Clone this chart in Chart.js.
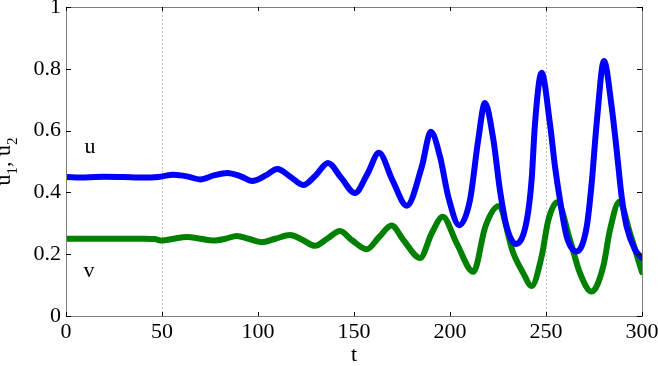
<!DOCTYPE html>
<html>
<head>
<meta charset="utf-8">
<script src="https://cdn.jsdelivr.net/npm/chart.js@4.4.1/dist/chart.umd.min.js"></script>
<style>
  html, body { margin: 0; padding: 0; background: #fff; overflow: hidden; }
  #wrap { width: 658px; height: 366px; }
</style>
</head>
<body>
<div id="wrap"><canvas id="chart" width="658" height="366"></canvas></div>
<script>
// values
const uTimes = [0, 10, 20, 30, 40, 48, 56, 63, 70, 77, 84, 91, 97, 104, 110, 117, 123.6, 130, 136.5, 143,
  150.5, 157, 163, 170, 177.5, 185.3, 190, 194.8, 199.1, 204.8, 210.4, 214.7, 218.2, 222.6, 226, 229.5,
  234.4, 240, 242.5, 244.3, 247.7, 252, 254.7, 257.3, 260.8, 266, 271.2, 273.8, 276.4, 280.2, 284.2,
  286.8, 289.4, 292, 296.4, 300];
const uValues = [0.450, 0.448, 0.451, 0.450, 0.448, 0.450, 0.457, 0.452, 0.442, 0.455, 0.463, 0.452, 0.437,
  0.455, 0.476, 0.450, 0.424, 0.455, 0.495, 0.450, 0.398, 0.460, 0.528, 0.440, 0.357, 0.483, 0.596, 0.516,
  0.386, 0.294, 0.375, 0.570, 0.689, 0.570, 0.408, 0.289, 0.233, 0.310, 0.440, 0.625, 0.787, 0.625, 0.483,
  0.375, 0.257, 0.209, 0.289, 0.430, 0.625, 0.825, 0.677, 0.537, 0.386, 0.289, 0.214, 0.188];

const vTimes = [0, 20, 40, 46, 50, 56, 63, 70, 76.6, 83, 89, 95, 102, 109, 116.7, 123, 129.7, 136, 142.7,
  149, 156.6, 163, 169.6, 175.7, 184.4, 190.5, 196.2, 203.5, 212.2, 218.4, 225.2, 233, 238.2, 242.5,
  247.7, 251.2, 255.9, 262.5, 267.7, 273.8, 279.8, 283.3, 288.2, 293.75, 300];
const vValues = [0.250, 0.250, 0.250, 0.249, 0.244, 0.250, 0.256, 0.250, 0.244, 0.250, 0.259, 0.250, 0.239,
  0.250, 0.262, 0.247, 0.227, 0.250, 0.275, 0.245, 0.216, 0.255, 0.293, 0.246, 0.188, 0.268, 0.321, 0.235,
  0.143, 0.289, 0.355, 0.203, 0.138, 0.097, 0.192, 0.310, 0.368, 0.246, 0.139, 0.079, 0.160, 0.278, 0.370,
  0.268, 0.142];

const xTicks = [0, 50, 100, 150, 200, 250, 300];
const yTicks = [0, 0.2, 0.4, 0.6, 0.8, 1];
const dottedAt = [50, 250];

// curve names written inside the plot, in data units
const labelText = ['u', 'v'];
const labelT = [12.5, 12];
const labelY = [0.527, 0.125];

const serif = 'Liberation Serif';

function toPoints(ts, vs) {
  return ts.map((t, i) => ({ x: t, y: vs[i] }));
}

const frameAndTicks = {
  id: 'frameAndTicks',
  afterDraw(chart) {
    const { ctx, chartArea: a, scales } = chart;
    ctx.save();
    ctx.strokeStyle = '#7f7f7f';
    ctx.lineWidth = 1;
    ctx.strokeRect(Math.round(a.left) + 0.5, Math.round(a.top) + 0.5,
      Math.round(a.right - a.left), Math.round(a.bottom - a.top));

    // small inward ticks on all four sides
    ctx.strokeStyle = '#000';
    ctx.beginPath();
    xTicks.forEach(v => {
      const px = Math.round(scales.x.getPixelForValue(v)) + 0.5;
      ctx.moveTo(px, a.bottom); ctx.lineTo(px, a.bottom - 4);
      ctx.moveTo(px, a.top); ctx.lineTo(px, a.top + 4);
    });
    yTicks.forEach(v => {
      const py = Math.round(scales.y.getPixelForValue(v)) + 0.5;
      ctx.moveTo(a.left, py); ctx.lineTo(a.left + 5, py);
      ctx.moveTo(a.right, py); ctx.lineTo(a.right - 5, py);
    });
    ctx.stroke();

    // labels u and v
    ctx.fillStyle = '#000';
    ctx.font = '22px "' + serif + '"';
    ctx.textAlign = 'center';
    ctx.textBaseline = 'alphabetic';
    labelText.forEach((txt, i) => {
      ctx.fillText(txt, scales.x.getPixelForValue(labelT[i]), scales.y.getPixelForValue(labelY[i]));
    });

    // y axis title with subscripts, rotated
    const parts = [['u', false], ['1', true], [', u', false], ['2', true]];
    const big = '22px "' + serif + '"';
    const small = '15px "' + serif + '"';
    let total = 0;
    parts.forEach(p => { ctx.font = p[1] ? small : big; total += ctx.measureText(p[0]).width; });
    ctx.translate(10, (a.top + a.bottom) / 2);
    ctx.rotate(-Math.PI / 2);
    ctx.textAlign = 'left';
    let x = -total / 2;
    parts.forEach(p => {
      ctx.font = p[1] ? small : big;
      ctx.fillText(p[0], x, p[1] ? 7 : 0);
      x += ctx.measureText(p[0]).width;
    });
    ctx.restore();
  }
};

new Chart(document.getElementById('chart'), {
  type: 'line',
  data: {
    datasets: [
      {
        label: 'u',
        data: toPoints(uTimes, uValues),
        borderColor: 'rgb(0, 0, 255)',
        borderWidth: 6,
        pointRadius: 0,
        cubicInterpolationMode: 'monotone',
        borderCapStyle: 'round',
        borderJoinStyle: 'round',
        fill: false
      },
      {
        label: 'v',
        data: toPoints(vTimes, vValues),
        borderColor: 'rgb(0, 128, 0)',
        borderWidth: 6,
        pointRadius: 0,
        cubicInterpolationMode: 'monotone',
        borderCapStyle: 'round',
        borderJoinStyle: 'round',
        fill: false
      }
    ]
  },
  options: {
    responsive: false,
    animation: false,
    events: [],
    layout: { padding: { top: 7, right: 16, left: 0, bottom: 0 } },
    plugins: { legend: { display: false }, tooltip: { enabled: false } },
    scales: {
      x: {
        type: 'linear',
        min: 0,
        max: 300,
        afterBuildTicks(scale) { scale.ticks = xTicks.map(v => ({ value: v })); },
        afterFit(scale) {
          scale.height = 50;
          scale.paddingLeft = 0;
          scale.paddingRight = 0;
        },
        ticks: {
          color: '#000',
          padding: 3,
          maxRotation: 0,
          autoSkip: false,
          font: { family: serif, size: 22 }
        },
        grid: {
          drawTicks: false,
          color: ctx => dottedAt.includes(ctx.tick && ctx.tick.value) ? '#c4c4c4' : 'rgba(0,0,0,0)',
          lineWidth: 1
        },
        border: { display: false, dash: [2, 2] },
        title: {
          display: true,
          text: 't',
          color: '#000',
          padding: { top: 0, bottom: 0 },
          font: { family: serif, size: 22, lineHeight: 1 }
        }
      },
      y: {
        type: 'linear',
        min: 0,
        max: 1,
        afterBuildTicks(scale) { scale.ticks = yTicks.map(v => ({ value: v })); },
        afterFit(scale) {
          scale.width = 66;
          scale.paddingTop = 0;
          scale.paddingBottom = 0;
        },
        ticks: {
          color: '#000',
          padding: 5,
          font: { family: serif, size: 22 },
          callback: v => String(Number(v.toFixed(1)))
        },
        grid: { display: false, drawTicks: false },
        border: { display: false }
      }
    }
  },
  plugins: [frameAndTicks]
});
</script>
</body>
</html>
